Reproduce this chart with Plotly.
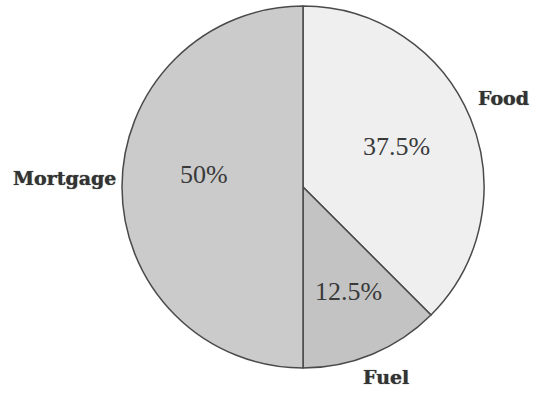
import plotly.graph_objects as go

# Household spending split
categories = ["Food", "Fuel", "Mortgage"]
shares = [37.5, 12.5, 50.0]
slice_colors = ["#efefef", "#c3c3c3", "#cbcbcb"]

W, H = 536, 394

fig = go.Figure(
    go.Pie(
        labels=categories,
        values=shares,
        sort=False,
        direction="clockwise",
        rotation=0,
        marker=dict(colors=slice_colors, line=dict(color="#4a4a4a", width=1.5)),
        textinfo="none",
        showlegend=False,
        domain=dict(x=[(303 - 181) / W, (303 + 181) / W], y=[(H - 368) / H, (H - 6) / H]),
        hoverinfo="label+percent",
    )
)

# Percentage text inside each slice
pct_font = dict(family="Liberation Serif", size=26, color="#3a3a3a")
pct_pos = {"Food": (397, 147), "Fuel": (348, 291), "Mortgage": (204, 174)}
for name, v in zip(categories, shares):
    x, y = pct_pos[name]
    fig.add_annotation(
        x=x / W, y=1 - y / H, xref="paper", yref="paper",
        text=f"{v:g}%", showarrow=False, font=pct_font,
        xanchor="center", yanchor="middle",
    )

# Category names sit outside the pie next to their slices
label_font = dict(family="DejaVu Serif", size=19, color="#333333", weight="bold",
                  shadow="0px 0px 1px #555555")
label_pos = {"Food": (503, 98), "Fuel": (386, 377), "Mortgage": (64, 178)}
for name in categories:
    x, y = label_pos[name]
    fig.add_annotation(
        x=x / W, y=1 - y / H, xref="paper", yref="paper",
        text=name, showarrow=False, font=label_font,
        xanchor="center", yanchor="middle",
    )

fig.update_layout(
    width=W, height=H,
    margin=dict(l=0, r=0, t=0, b=0),
    paper_bgcolor="white",
    plot_bgcolor="white",
)

fig.write_html("out.html")
